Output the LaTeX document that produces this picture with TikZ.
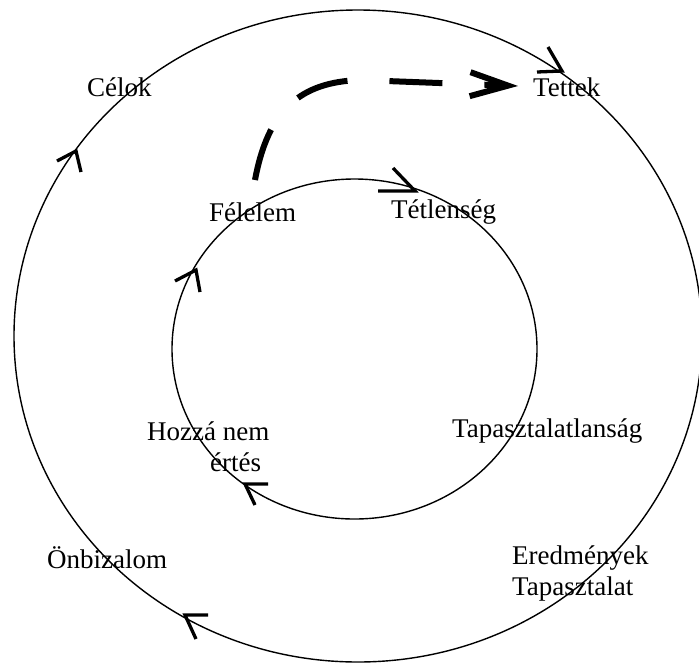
\documentclass[tikz,border=0pt]{standalone}
\usepackage{fontspec}
\setmainfont{Liberation Serif}
\usetikzlibrary{arrows.meta}
\begin{document}
\begin{tikzpicture}[x=1pt,y=-1pt,
  lbl/.style={inner sep=0pt,anchor=west,align=left,font=\fontsize{27}{31}\selectfont},
  ring/.style={line width=1.4pt},
  barb/.style={line width=3.3pt,line cap=butt,line join=miter},
  fear/.style={line width=6pt,dash pattern=on 53pt off 42pt,
    -{Straight Barb[length=38pt,width=24pt]}}]
\useasboundingbox (0,0) rectangle (699,662);
\clip (0,0) rectangle (699,662);
% rings
\draw[ring] (358,336) ellipse [x radius=344,y radius=326];
\draw[ring] (354.5,349) ellipse [x radius=182.5,y radius=170];
% direction marks on the outer ring
\draw[barb] (548,47) -- (562,71) -- (537,72);
\draw[barb] (57,161) -- (76,151) -- (81,172);
\draw[barb] (208,615) -- (185,615) -- (196,639);
% direction marks on the inner ring
\draw[barb] (393,168) -- (415,191) -- (378,191);
\draw[barb] (175,281) -- (196,270) -- (200,292);
\draw[barb] (268,484) -- (245,484) -- (255,505);
% labels
\node[lbl] (cel) at (87,87) {Célok};
\node[lbl] (tet) at (533,87) {Tettek};
\node[lbl] (fel) at (209,212) {Félelem};
\node[lbl] (tetl) at (391,212) {Tétlenség};
\node[lbl] (hoz) at (147,447) {Hozzá nem\\\hspace*{63pt}értés};
\node[lbl] (tapl) at (452,431) {Tapasztalatlanság};
\node[lbl] (onb) at (47,558) {Önbizalom};
\node[lbl] (ered) at (512,573.5) {Eredmények\\Tapasztalat};
% dashed connector from Félelem to Tettek
\coordinate (fs) at (255,180);
\draw[fear] (fs) .. controls (268,110) and (300,82) .. (360,80)
  -- ([xshift=-15pt,yshift=1pt]tet.west);
\end{tikzpicture}
\end{document}
